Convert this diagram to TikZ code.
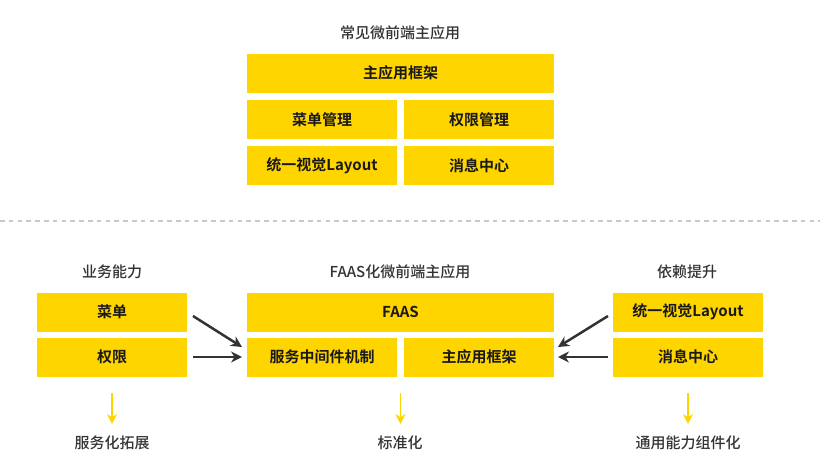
\documentclass[tikz,border=0pt]{standalone}
\usepackage{fontspec}
\setmainfont{Noto Sans CJK SC}[BoldFont={Noto Sans CJK SC Bold}]
\newfontfamily\medfont{Noto Sans CJK SC Medium}
\usetikzlibrary{arrows.meta}
\definecolor{ybox}{HTML}{FFD500}
\definecolor{tgray}{HTML}{333333}
\definecolor{dgray}{HTML}{C8C8C8}
\begin{document}
\begin{tikzpicture}[x=1pt,y=-1pt,
  box/.style={fill=ybox,draw=none,inner sep=0pt,font=\fontsize{15}{18}\selectfont\bfseries,text=black!90},
  wide/.style={box,minimum width=307pt,minimum height=39pt},
  half/.style={box,minimum width=150pt,minimum height=39pt},
  ttl/.style={font=\fontsize{15}{18}\selectfont\medfont,text=tgray,inner sep=0pt},
  darr/.style={draw=tgray,line width=2.5pt,-{Stealth[length=11pt,width=11pt]}},
  yarr/.style={draw=ybox,line width=1.8pt,-{Stealth[length=10pt,width=10pt]}}]
\useasboundingbox (0,0) rectangle (820,469);
% top
\node[ttl] (t0) at (400,33) {常见微前端主应用};
\node[wide] (tmain) at (400.5,73) {主应用框架};
\node[half] (tmenu) at (322,119.5) {菜单管理};
\node[half] (tauth) at (479,119.5) {权限管理};
\node[half] (tlay) at (322,165.5) {统一视觉Layout};
\node[half] (tmsg) at (479,165.5) {消息中心};
% divider
\coordinate (d1) at (0,221);
\coordinate (d2) at (820,221);
\draw[dgray,line width=1.3pt,dash pattern=on 4.5pt off 4.3pt] (d1) -- (d2);
% bottom titles
\node[ttl] (b1) at (112,272) {业务能力};
\node[ttl] (b2) at (400,272) {FAAS化微前端主应用};
\node[ttl] (b3) at (687,272) {依赖提升};
% left
\node[half] (lmenu) at (112,312) {菜单};
\node[half] (lauth) at (112,357) {权限};
% center
\node[wide] (faas) at (400.5,312) {FAAS};
\node[half] (mid) at (322,357) {服务中间件机制};
\node[half] (mainf) at (479,357) {主应用框架};
% right
\node[half] (rlay) at (688,312) {统一视觉Layout};
\node[half] (rmsg) at (688,357) {消息中心};
% arrow ends
\coordinate (a1s) at (193,316);
\coordinate (a1e) at (242,347);
\coordinate (a2s) at (193,357);
\coordinate (a2e) at (242,357);
\coordinate (a3s) at (608,316);
\coordinate (a3e) at (558,347);
\coordinate (a4s) at (608,357);
\coordinate (a4e) at (558,357);
\draw[darr] (a1s) -- (a1e);
\draw[darr] (a2s) -- (a2e);
\draw[darr] (a3s) -- (a3e);
\draw[darr] (a4s) -- (a4e);
% labels
\node[ttl] (l1) at (112,443) {服务化拓展};
\node[ttl] (l2) at (400,443) {标准化};
\node[ttl] (l3) at (688,443) {通用能力组件化};
\coordinate (y1s) at (112,393);
\coordinate (y1e) at (112,424);
\coordinate (y2s) at (400.5,393);
\coordinate (y2e) at (400.5,424);
\coordinate (y3s) at (688,393);
\coordinate (y3e) at (688,424);
\draw[yarr] (y1s) -- (y1e);
\draw[yarr] (y2s) -- (y2e);
\draw[yarr] (y3s) -- (y3e);
\end{tikzpicture}
\end{document}
